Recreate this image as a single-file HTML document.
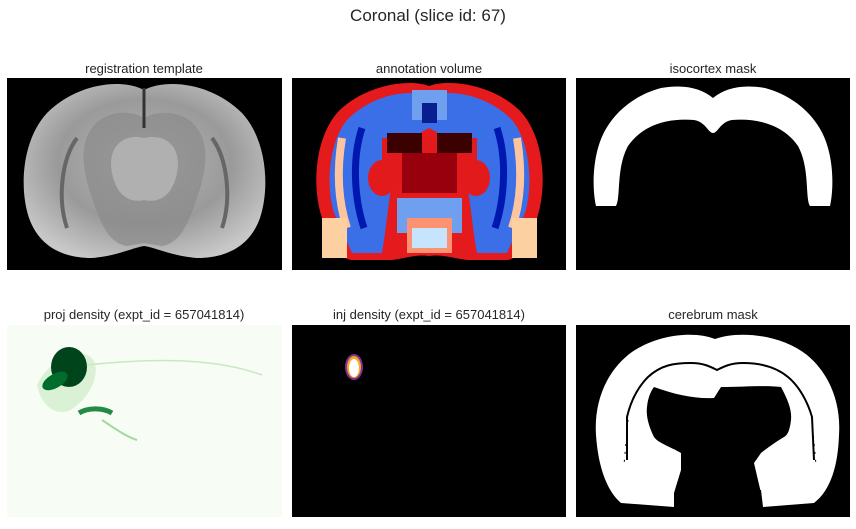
<!DOCTYPE html>
<html><head><meta charset="utf-8"><style>
body{margin:0;background:#fff;width:856px;height:524px;overflow:hidden;font-family:"Liberation Sans","DejaVu Sans",sans-serif}
</style></head><body>
<svg width="856" height="524" xmlns="http://www.w3.org/2000/svg">
<defs>
<radialGradient id="gtmp" cx="50%" cy="45%" r="60%"><stop offset="0" stop-color="#b8b8b8"/><stop offset="0.6" stop-color="#9a9a9a"/><stop offset="1" stop-color="#c8c8c8"/></radialGradient>
</defs>
<text x="428" y="21" text-anchor="middle" font-size="17" fill="#262626">Coronal (slice id: 67)</text>

<g font-size="13" fill="#262626" text-anchor="middle">
<text x="144" y="73">registration template</text>
<text x="429" y="73">annotation volume</text>
<text x="713" y="73">isocortex mask</text>
<text x="144" y="319">proj density (expt_id = 657041814)</text>
<text x="429" y="319">inj density (expt_id = 657041814)</text>
<text x="713" y="319">cerebrum mask</text>
</g>

<g transform="translate(7,78)">
<rect width="275" height="192" fill="#000"/>
<path d="M137,12 C115,0 70,5 40,35 C15,62 12,110 22,140 C32,168 55,180 85,180 C110,178 125,170 137,168 C150,170 165,178 190,180 C220,180 243,168 253,140 C263,110 260,62 235,35 C205,5 160,0 137,12Z" fill="url(#gtmp)"/>
<path d="M137,40 C120,30 95,35 85,50 C70,70 78,100 85,120 C92,140 100,165 120,168 L137,165 L155,168 C175,165 183,140 190,120 C197,100 205,70 190,50 C180,35 155,30 137,40Z" fill="#8a8a8a" opacity="0.7"/>
<path d="M137,60 C115,55 100,70 105,95 C110,120 125,125 137,122 C150,125 165,120 170,95 C175,70 160,55 137,60Z" fill="#b0b0b0"/>
<path d="M137,10 L137,50" stroke="#333" stroke-width="3"/>
<path d="M60,150 C50,120 55,80 70,60" stroke="#666" stroke-width="4" fill="none"/>
<path d="M215,150 C225,120 220,80 205,60" stroke="#666" stroke-width="4" fill="none"/>
</g>

<g transform="translate(292,78)">
<rect width="274" height="192" fill="#000"/>
<path d="M137,8 C115,0 70,8 45,35 C22,62 20,110 30,140 C38,165 50,182 60,182 L100,182 C115,180 125,176 137,178 C150,176 160,180 175,182 L215,182 C225,182 237,165 245,140 C255,110 253,62 230,35 C205,8 160,0 137,8Z" fill="#e41a1c"/>
<path d="M137,18 C115,10 78,18 55,42 C36,65 34,110 42,135 L60,175 L90,175 C100,120 95,70 137,50 C180,70 175,120 185,175 L215,175 L233,135 C241,110 239,65 220,42 C197,18 160,10 137,18Z" fill="#3a6fe8"/>
<path d="M50,60 C45,90 45,120 55,150" stroke="#fcc5a0" stroke-width="8" fill="none"/>
<path d="M225,60 C230,90 230,120 220,150" stroke="#fcc5a0" stroke-width="8" fill="none"/>
<path d="M70,50 C60,80 62,120 72,150" stroke="#0018b0" stroke-width="7" fill="none"/>
<path d="M205,50 C215,80 213,120 203,150" stroke="#0018b0" stroke-width="7" fill="none"/>
<rect x="90" y="60" width="95" height="45" fill="#e31a1c"/>
<rect x="110" y="75" width="55" height="40" fill="#99000d"/>
<rect x="95" y="55" width="35" height="20" fill="#3b0000"/>
<rect x="145" y="55" width="35" height="20" fill="#3b0000"/>
<ellipse cx="90" cy="100" rx="14" ry="18" fill="#e31a1c"/>
<ellipse cx="184" cy="100" rx="14" ry="18" fill="#e31a1c"/>
<rect x="105" y="120" width="65" height="35" fill="#6fa0ef"/>
<rect x="115" y="140" width="45" height="35" fill="#fc9272"/>
<rect x="120" y="150" width="35" height="20" fill="#c6e4fb"/>
<rect x="30" y="140" width="25" height="40" fill="#fdd0a2"/>
<rect x="220" y="140" width="25" height="40" fill="#fdd0a2"/>
<rect x="120" y="12" width="35" height="30" fill="#6fa0ef"/>
<rect x="130" y="25" width="15" height="20" fill="#0a1f8f"/>
</g>

<g transform="translate(576,78)">
<rect width="274" height="192" fill="#000"/>
<path d="M137,20 C125,10 108,6 85,10 C55,18 30,40 22,70 C15,95 18,120 20,128 L40,128 C45,120 40,90 52,68 C68,45 95,40 118,42 C130,44 132,55 137,55 C142,55 144,44 156,42 C178,40 206,45 222,68 C234,90 229,120 234,128 L254,128 C256,120 259,95 252,70 C244,40 219,18 189,10 C166,6 149,10 137,20Z" fill="#fff"/>
</g>

<g transform="translate(7,325)">
<rect width="275" height="192" fill="#f7fcf5"/>
<path d="M30,60 C40,40 60,25 80,30 C95,35 90,65 70,80 C55,95 35,85 30,60Z" fill="#c7e9c0" opacity="0.6"/>
<ellipse cx="62" cy="42" rx="18" ry="20" fill="#00441b"/>
<ellipse cx="48" cy="56" rx="14" ry="7" fill="#006d2c" transform="rotate(-30 48 56)"/>
<path d="M72,88 C80,83 95,82 105,88" stroke="#238b45" stroke-width="5" fill="none"/>
<path d="M80,40 C130,35 200,30 255,50" stroke="#c7e9c0" stroke-width="1.5" fill="none"/>
<path d="M95,95 C110,105 120,112 130,115" stroke="#a1d99b" stroke-width="2" fill="none"/>
</g>

<g transform="translate(292,325)">
<rect width="274" height="192" fill="#000"/>
<ellipse cx="62" cy="42" rx="9" ry="13" fill="#7b3294"/>
<ellipse cx="62" cy="42" rx="7" ry="11" fill="#f5a623"/>
<ellipse cx="62" cy="43" rx="5" ry="9" fill="#fff"/>
</g>

<g transform="translate(576,325)">
<rect width="274" height="192" fill="#000"/>
<path d="M139,14 C120,6 80,8 52,30 C28,50 18,80 20,110 C22,140 30,165 45,178 L98,182 L100,165 L185,165 L187,182 L238,178 C255,165 262,140 263,110 C265,80 255,50 231,30 C203,8 160,6 139,14Z" fill="#fff"/>
<path d="M51,135 L51,92 C55,75 62,62 72,52 C85,40 98,38 115,38 C128,38 135,42 141,45 C147,42 154,38 167,38 C185,38 200,42 212,52 C224,62 232,78 236,92 L238,135" stroke="#000" stroke-width="2" fill="none"/>
<path d="M78,62 C100,70 120,74 138,73 L145,62 C165,62 190,60 205,62 C212,75 216,85 215,95 C214,104 212,110 208,112 C198,118 190,124 185,128 L178,138 L185,168 L185,192 L98,192 L98,168 L105,145 L105,128 C95,122 82,118 78,112 C72,100 70,90 71,82 C72,72 75,66 78,62Z" fill="#000"/>
<path d="M52,95 L48,140 M236,95 L240,140" stroke="#000" stroke-width="1" stroke-dasharray="2 6"/>
</g>
</svg>
</body></html>
